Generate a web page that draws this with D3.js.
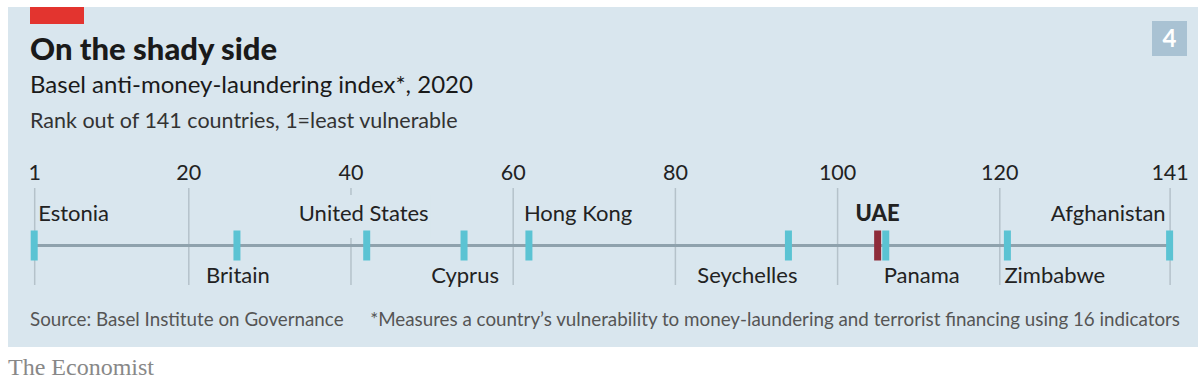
<!DOCTYPE html>
<html>
<head>
<meta charset="utf-8">
<script src="https://cdn.jsdelivr.net/npm/d3@7"></script>
<style>
  html, body { margin: 0; padding: 0; background: #fff; }
  svg { display: block; }
</style>
</head>
<body>
<svg id="chart" width="1200" height="380"></svg>
<script>
// ---- data ----
const countries = ["Estonia", "Britain", "United States", "Cyprus", "Hong Kong", "Seychelles", "UAE", "Panama", "Zimbabwe", "Afghanistan"];
const ranks     = [1, 26, 42, 54, 62, 94, 105, 106, 121, 141];
const tickValues = [1, 20, 40, 60, 80, 100, 120, 141];
const highlight = "UAE";

// ---- label layout (placement only) ----
const labelLayout = {
  "Estonia":       { side: "above", anchor: "start",  dx: 4 },
  "Britain":       { side: "below", anchor: "middle", dx: 1 },
  "United States": { side: "above", anchor: "middle", dx: -3, knockout: true },
  "Cyprus":        { side: "below", anchor: "middle", dx: 1 },
  "Hong Kong":     { side: "above", anchor: "start",  dx: -5 },
  "Seychelles":    { side: "below", anchor: "end",    dx: 9 },
  "UAE":           { side: "above", anchor: "middle", dx: 0 },
  "Panama":        { side: "below", anchor: "start",  dx: -2 },
  "Zimbabwe":      { side: "below", anchor: "start",  dx: -3 },
  "Afghanistan":   { side: "above", anchor: "end",    dx: -4 }
};

const W = 1200, H = 380;
const bg = "#d9e6ee";
const svg = d3.select("#chart");
const font = "Lato, 'Open Sans', sans-serif";

// panel
svg.append("rect").attr("x", 8).attr("y", 7).attr("width", 1190).attr("height", 340).attr("fill", bg);
// red tag
svg.append("rect").attr("x", 30).attr("y", 7).attr("width", 54).attr("height", 17).attr("fill", "#e3342f");

// titles
svg.append("text").attr("x", 30).attr("y", 60).attr("font-family", font).attr("font-weight", 900)
  .attr("font-size", 31).attr("fill", "#1a1a1a").text("On the shady side");
svg.append("text").attr("x", 30).attr("y", 93).attr("font-family", font)
  .attr("font-size", 24).attr("fill", "#1a1a1a").text("Basel anti-money-laundering index*, 2020");
svg.append("text").attr("x", 30).attr("y", 128).attr("font-family", font)
  .attr("font-size", 21.5).attr("fill", "#333").text("Rank out of 141 countries, 1=least vulnerable");

// chart number box
svg.append("rect").attr("x", 1152).attr("y", 21).attr("width", 35).attr("height", 35).attr("fill", "#a9c2d3");
svg.append("text").attr("x", 1169.5).attr("y", 47).attr("text-anchor", "middle").attr("font-family", font)
  .attr("font-weight", 700).attr("font-size", 24).attr("fill", "#fff").text("4");

// scale
const x = d3.scaleLinear().domain([1, 141]).range([34.2, 1169.6]);
const lineY = 245.5;

// axis with gridlines
const axis = d3.axisTop(x).tickValues(tickValues).tickSize(0).tickPadding(0).tickFormat(d3.format("d"));
const gAxis = svg.append("g").attr("transform", "translate(0,180)").call(axis);
gAxis.select(".domain").remove();
gAxis.selectAll("text").attr("font-family", font).attr("font-size", 21.5).attr("fill", "#222").attr("dy", 0);
gAxis.selectAll(".tick").append("line").attr("class", "grid")
  .attr("y1", 8).attr("y2", 105).attr("stroke", "#b5c2ca").attr("stroke-width", 1.5);

// main line
svg.append("line").attr("x1", x(1)).attr("x2", x(141)).attr("y1", lineY).attr("y2", lineY)
  .attr("stroke", "#8fa2ad").attr("stroke-width", 3);

// knockouts + labels
const data = countries.map((c, i) => ({ name: c, rank: ranks[i] }));
const labels = svg.append("g");
data.forEach(d => {
  const L = labelLayout[d.name];
  const y = L.side === "above" ? 221 : 283;
  const t = labels.append("text").attr("x", x(d.rank) + L.dx).attr("y", y)
    .attr("text-anchor", L.anchor).attr("font-family", font).attr("font-size", 22)
    .attr("font-weight", d.name === highlight ? 900 : 400)
    .attr("fill", "#222").text(d.name);
  if (L.knockout) {
    const bb = t.node().getBBox();
    labels.insert("rect", "text").attr("x", bb.x - 2).attr("y", bb.y - 4)
      .attr("width", bb.width + 4).attr("height", bb.height + 16).attr("fill", bg);
  }
});

// markers
svg.append("g").selectAll("rect").data(data).join("rect")
  .attr("x", d => x(d.rank) - 3.5).attr("y", lineY - 15).attr("width", 7).attr("height", 30)
  .attr("fill", d => d.name === highlight ? "#8e2c3a" : "#5bc3d3");

// footer
svg.append("text").attr("x", 30).attr("y", 326).attr("font-family", font).attr("font-size", 18.8)
  .attr("fill", "#555").text("Source: Basel Institute on Governance");
svg.append("text").attr("x", 1180).attr("y", 326).attr("text-anchor", "end").attr("font-family", font).attr("font-size", 18.8)
  .attr("fill", "#555").text("*Measures a country\u2019s vulnerability to money-laundering and terrorist financing using 16 indicators");
svg.append("text").attr("x", 8).attr("y", 375).attr("font-family", "'Liberation Serif', 'DejaVu Serif', serif").attr("font-size", 24)
  .attr("fill", "#888").text("The Economist");
</script>
</body>
</html>
